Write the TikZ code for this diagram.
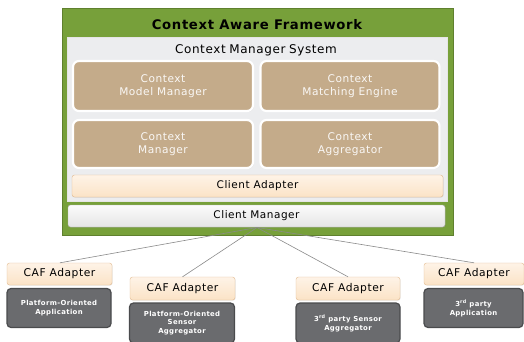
\documentclass[tikz,border=0pt]{standalone}
\usepackage{fontspec}
\setmainfont{DejaVu Sans}[LetterSpace=5]
\usetikzlibrary{shadows}
\definecolor{cafgreen}{HTML}{77A03A}
\definecolor{cmsgrey}{HTML}{ECEDEF}
\definecolor{tan}{HTML}{C4AB8A}
\definecolor{peach}{HTML}{FBE3C6}
\definecolor{peachtop}{HTML}{FEF3E7}
\definecolor{darkbox}{HTML}{6A6B6E}
\definecolor{darkedge}{HTML}{4A4B4D}
\definecolor{linegrey}{HTML}{8A8A8A}
\begin{document}
\begin{tikzpicture}[x=1pt,y=-1pt,
  tanbox/.style={draw=white,line width=2.2pt,fill=tan,rounded corners=6pt,text=white!92!tan,
     font=\fontsize{10.6}{12.8}\selectfont,align=center,drop shadow={opacity=0.25,shadow xshift=0.8pt,shadow yshift=-0.8pt}},
  adapter/.style={draw=peach!60!brown,line width=0.4pt,rounded corners=2.5pt,top color=peachtop,bottom color=peach,
     font=\fontsize{10.7}{13}\selectfont,drop shadow={opacity=0.2,shadow xshift=0.6pt,shadow yshift=-0.6pt}},
  darkapp/.style={draw=darkedge,line width=1.2pt,fill=darkbox,rounded corners=4pt,text=white,
     font=\bfseries\fontsize{6.9}{8.8}\selectfont,align=center},
  conn/.style={draw=linegrey,line width=0.6pt}
]
\useasboundingbox (0,0) rectangle (524,342);
% outer green frame
\node[draw=cafgreen!80!black,line width=0.4pt,fill=cafgreen,minimum width=391pt,minimum height=227pt,anchor=north west,inner sep=0pt] (caf) at (62,8) {};
\node[font=\bfseries\fontsize{13.2}{15}\selectfont] (caftitle) at (257,25) {Context Aware Framework};
% inner grey
\node[draw=white!80!gray,line width=0.4pt,fill=cmsgrey,minimum width=380pt,minimum height=164pt,anchor=north west,inner sep=0pt] (cms) at (67,37) {};
\node[font=\fontsize{12}{14}\selectfont] (cmstitle) at (256,50) {Context\hspace{0.3em}Manager\hspace{0.3em}System};
% tan boxes
\node[tanbox,minimum width=180pt,minimum height=50pt,inner sep=0pt] (cmm) at (163,86) {Context\\Model Manager};
\node[tanbox,minimum width=179pt,minimum height=50pt,inner sep=0pt] (cme) at (350,86) {Context\\Matching Engine};
\node[tanbox,minimum width=180pt,minimum height=48pt,inner sep=0pt] (cm) at (163,144) {Context\\Manager};
\node[tanbox,minimum width=179pt,minimum height=48pt,inner sep=0pt] (ca) at (350,144) {Context\\Aggregator};
% client adapter
\node[draw=peach!55!brown,line width=0.4pt,rounded corners=2.5pt,top color=peachtop,bottom color=peach,
  minimum width=371pt,minimum height=22pt,inner sep=0pt,font=\fontsize{10.5}{12}\selectfont,
  drop shadow={opacity=0.2,shadow xshift=0.6pt,shadow yshift=-0.6pt}] (cadapt) at (257.5,186) {Client Adapter};
% client manager
\node[draw=gray!60,line width=0.4pt,rounded corners=2.5pt,top color=white!97!gray,bottom color=white!80!gray,
  minimum width=377pt,minimum height=22pt,inner sep=0pt,font=\fontsize{10.5}{12}\selectfont,
  drop shadow={opacity=0.25,shadow xshift=0.6pt,shadow yshift=-0.6pt}] (cmgr) at (256.5,216) {Client Manager};
\coordinate (hub) at (257,227.5);
% bottom adapters
\node[adapter,minimum width=105pt,minimum height=22pt,inner sep=0pt] (a1) at (59.5,274) {CAF Adapter};
\node[darkapp,minimum width=104pt,minimum height=39pt,inner sep=0pt] (p1) at (59,308) {Platform-Oriented\\Application};
\node[adapter,minimum width=105pt,minimum height=23pt,inner sep=0pt] (a2) at (182.5,288.5) {CAF Adapter};
\node[darkapp,minimum width=105pt,minimum height=40pt,inner sep=0pt] (p2) at (182,323) {Platform-Oriented\\Sensor\\Aggregator};
\node[adapter,minimum width=104pt,minimum height=23pt,inner sep=0pt] (a3) at (348,288.5) {CAF Adapter};
\node[darkapp,minimum width=104pt,minimum height=40pt,inner sep=0pt] (p3) at (348,323) {3\textsuperscript{rd} party Sensor\\Aggregator};
\node[adapter,minimum width=100pt,minimum height=22pt,inner sep=0pt] (a4) at (474,274) {CAF Adapter};
\node[darkapp,minimum width=99pt,minimum height=39pt,inner sep=0pt] (p4) at (473.5,308) {3\textsuperscript{rd} party\\Application};
% connectors
\draw[conn] (hub) -- (a1.north -| 60,0);
\draw[conn] (hub) -- (a2.north);
\draw[conn] (hub) -- (a3.north);
\draw[conn] (hub) -- (a4.north);
\end{tikzpicture}
\end{document}
